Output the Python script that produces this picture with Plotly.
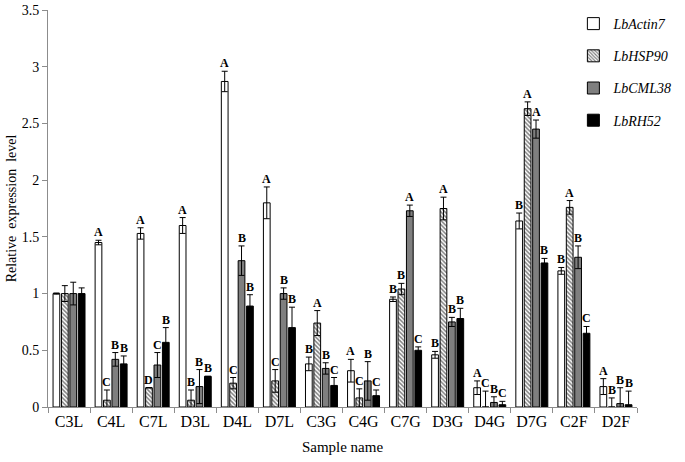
import plotly.graph_objects as go

samples = ["C3L", "C4L", "C7L", "D3L", "D4L", "D7L", "C3G", "C4G",
           "C7G", "D3G", "D4G", "D7G", "C2F", "D2F"]

actin7 = [1.00, 1.45, 1.53, 1.60, 2.87, 1.80, 0.38, 0.32, 0.95, 0.46, 0.17, 1.64, 1.20, 0.18]
actin7_err = [0.005, 0.02, 0.05, 0.07, 0.09, 0.14, 0.06, 0.10, 0.02, 0.03, 0.06, 0.07, 0.03, 0.07]
actin7_sig = ["", "A", "A", "A", "A", "A", "B", "A", "B", "B", "A", "B", "B", "A"]

hsp90 = [1.00, 0.06, 0.17, 0.06, 0.21, 0.23, 0.74, 0.08, 1.04, 1.75, 0.00, 2.63, 1.76, 0.00]
hsp90_err = [0.07, 0.09, 0.00, 0.09, 0.05, 0.10, 0.11, 0.08, 0.05, 0.10, 0.14, 0.06, 0.06, 0.08]
hsp90_sig = ["", "C", "D", "B", "C", "C", "A", "C", "B", "A", "C", "A", "A", "B"]

cml38 = [1.00, 0.42, 0.37, 0.18, 1.29, 1.00, 0.34, 0.23, 1.73, 0.75, 0.04, 2.45, 1.32, 0.03]
cml38_err = [0.10, 0.06, 0.11, 0.15, 0.13, 0.05, 0.05, 0.17, 0.05, 0.04, 0.05, 0.08, 0.10, 0.14]
cml38_sig = ["", "B", "C", "B", "B", "B", "B", "B", "A", "B", "B", "A", "B", "B"]

rh52 = [1.00, 0.38, 0.57, 0.27, 0.89, 0.70, 0.19, 0.10, 0.50, 0.78, 0.02, 1.27, 0.65, 0.02]
rh52_err = [0.05, 0.07, 0.13, 0.00, 0.10, 0.18, 0.07, 0.05, 0.03, 0.09, 0.03, 0.04, 0.06, 0.12]
rh52_sig = ["", "B", "B", "B", "B", "B", "C", "C", "C", "B", "C", "B", "C", "B"]

genes = ["LbActin7", "LbHSP90", "LbCML38", "LbRH52"]
values = [actin7, hsp90, cml38, rh52]
errors = [actin7_err, hsp90_err, cml38_err, rh52_err]
letters = [actin7_sig, hsp90_sig, cml38_sig, rh52_sig]

fills = ["white", "white", "#7f7f7f", "black"]
shapes = ["", "\\", "", ""]
offsets = [-0.3, -0.1, 0.1, 0.3]
bar_w = 0.16
serif = "Liberation Serif, Times New Roman, serif"

fig = go.Figure()
pos = list(range(len(samples)))
for k, g in enumerate(genes):
    xs = [p + offsets[k] for p in pos]
    fig.add_trace(go.Bar(
        x=xs, y=values[k], width=bar_w, name="<i>" + g + "</i>",
        legendgroup=g,
        marker=dict(color=fills[k], line=dict(color="black", width=1),
                    pattern=dict(shape=shapes[k], fgcolor="black", bgcolor="white",
                                 size=3, solidity=0.5)),
        error_y=dict(type="data", array=errors[k], visible=True,
                     color="black", thickness=1, width=3),
    ))
    for x, v, e, t in zip(xs, values[k], errors[k], letters[k]):
        if t:
            fig.add_annotation(x=x, y=v + e, text="<b>" + t + "</b>", showarrow=False,
                               yanchor="bottom", yshift=-1,
                               font=dict(family=serif, size=12, color="black"))

fig.update_layout(
    width=685, height=462,
    margin=dict(l=48, r=13, t=8, b=55),
    plot_bgcolor="white", paper_bgcolor="white",
    font=dict(family=serif, size=14, color="black"),
    showlegend=True,
    legend=dict(x=0.892, y=1.005, xanchor="left", yanchor="top",
                font=dict(family=serif, size=14), tracegroupgap=11,
                itemwidth=30, bgcolor="rgba(0,0,0,0)"),
    xaxis=dict(range=[-0.5, len(samples) - 0.5], tickvals=pos, ticktext=samples,
               ticks="", showline=True, linecolor="#8c8c8c", linewidth=1,
               showgrid=False, zeroline=False, tickfont=dict(size=16),
               automargin=False,
               minor=dict(tick0=-0.5, dtick=1, ticks="outside", ticklen=5,
                          tickcolor="#8c8c8c", showgrid=False),
               title=dict(text="Sample name", font=dict(size=15), standoff=12)),
    yaxis=dict(range=[0, 3.5], dtick=0.5, ticks="outside", ticklen=5,
               tickcolor="#8c8c8c", showline=True, linecolor="#8c8c8c",
               linewidth=1, showgrid=False, zeroline=False, automargin=False,
               tickfont=dict(size=14),
               title=dict(text="Relative  expression  level", font=dict(size=14),
                          standoff=1)),
)

# the page keeps the default 8px body margin otherwise
fig.write_html("out.html", config={"displayModeBar": False},
               post_script="document.body.style.margin='0px';")
